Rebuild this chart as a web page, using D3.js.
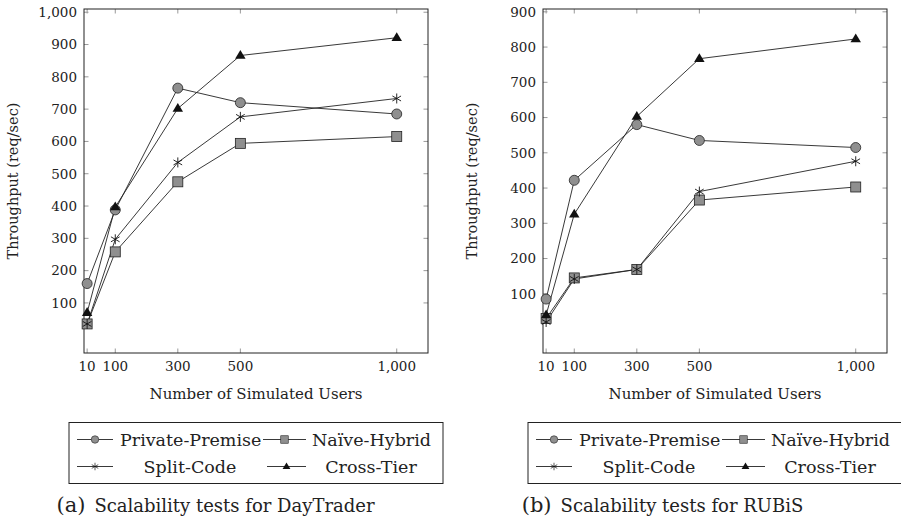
<!DOCTYPE html>
<html>
<head>
<meta charset="utf-8">
<script src="https://cdn.jsdelivr.net/npm/d3@7"></script>
<style>
  body { margin: 0; background: #fff; }
  svg text { font-family: "DejaVu Serif", "Liberation Serif", serif; fill: #222; }
</style>
</head>
<body>
<svg id="chart" width="901" height="520"></svg>
<script>
// --- data ---
const users = [10, 100, 300, 500, 1000];
const seriesNames = ['Private-Premise', 'Naïve-Hybrid', 'Split-Code', 'Cross-Tier'];
const seriesMarks = ['circle', 'square', 'star', 'triangle'];

// DayTrader (a)
const dtPrivate = [160, 388, 765, 720, 685];
const dtNaive = [35, 258, 475, 594, 615];
const dtSplit = [35, 297, 535, 676, 733];
const dtCross = [70, 397, 702, 866, 921];
const dtTicks = [100, 200, 300, 400, 500, 600, 700, 800, 900, 1000];

// RUBiS (b)
const rbPrivate = [85, 422, 580, 535, 515];
const rbNaive = [30, 145, 169, 366, 403];
const rbSplit = [20, 142, 169, 390, 476];
const rbCross = [40, 326, 603, 767, 823];
const rbTicks = [100, 200, 300, 400, 500, 600, 700, 800, 900];

const svg = d3.select('#chart');
const fmt = d3.format(',');

function drawMark(g, type, cx, cy) {
  if (type === 'circle') {
    g.append('circle').attr('cx', cx).attr('cy', cy).attr('r', 5)
      .attr('fill', '#8f8f8f').attr('stroke', '#222').attr('stroke-width', 0.8);
  } else if (type === 'square') {
    g.append('rect').attr('x', cx - 5).attr('y', cy - 5).attr('width', 10).attr('height', 10)
      .attr('fill', '#8f8f8f').attr('stroke', '#222').attr('stroke-width', 0.8);
  } else if (type === 'triangle') {
    const r = 5.5;
    g.append('path')
      .attr('d', `M${cx},${cy - r}L${cx + r * 0.95},${cy + r * 0.6}L${cx - r * 0.95},${cy + r * 0.6}Z`)
      .attr('fill', '#111');
  } else if (type === 'star') {
    const r = 5;
    [90, 30, 150].forEach(a => {
      const dx = r * Math.cos(a * Math.PI / 180), dy = r * Math.sin(a * Math.PI / 180);
      g.append('line').attr('x1', cx - dx).attr('y1', cy - dy).attr('x2', cx + dx).attr('y2', cy + dy)
        .attr('stroke', '#111').attr('stroke-width', 0.9);
    });
  }
}

function drawPanel(opts) {
  const {left, right, top, bottom, yDomain, yTicks, series, caption, tag, legendX, captionX} = opts;
  const g = svg.append('g');
  const x = d3.scaleLinear().domain([0, 1100]).range([left, right]);
  const y = d3.scaleLinear().domain(yDomain).range([bottom, top]);
  const tickLen = 4.5;

  // tick marks (inward, both sides)
  yTicks.forEach(t => {
    g.append('line').attr('x1', left).attr('x2', left + tickLen).attr('y1', y(t)).attr('y2', y(t))
      .attr('stroke', '#999').attr('stroke-width', 1);
    g.append('line').attr('x1', right).attr('x2', right - tickLen).attr('y1', y(t)).attr('y2', y(t))
      .attr('stroke', '#999').attr('stroke-width', 1);
    g.append('text').attr('x', left - 7).attr('y', y(t)).attr('dy', '0.36em')
      .attr('text-anchor', 'end').attr('font-size', 13.5).text(fmt(t));
  });
  users.forEach(t => {
    g.append('line').attr('x1', x(t)).attr('x2', x(t)).attr('y1', bottom).attr('y2', bottom - tickLen)
      .attr('stroke', '#999').attr('stroke-width', 1);
    g.append('line').attr('x1', x(t)).attr('x2', x(t)).attr('y1', top).attr('y2', top + tickLen)
      .attr('stroke', '#999').attr('stroke-width', 1);
    g.append('text').attr('x', x(t)).attr('y', bottom + 18)
      .attr('text-anchor', 'middle').attr('font-size', 13.5).text(fmt(t));
  });

  g.append('rect').attr('x', left).attr('y', top).attr('width', right - left).attr('height', bottom - top)
    .attr('fill', 'none').attr('stroke', '#222').attr('stroke-width', 1);

  // lines and marks
  const line = d3.line().x((d, i) => x(users[i])).y(d => y(d));
  series.forEach(vals => {
    g.append('path').datum(vals).attr('d', line)
      .attr('fill', 'none').attr('stroke', '#222').attr('stroke-width', 0.9);
  });
  series.forEach((vals, si) => {
    vals.forEach((v, i) => drawMark(g, seriesMarks[si], x(users[i]), y(v)));
  });

  // axis labels
  g.append('text').attr('x', (left + right) / 2).attr('y', 399).attr('text-anchor', 'middle')
    .attr('font-size', 15).text('Number of Simulated Users');
  g.append('text').attr('transform', `translate(${left - 66},181) rotate(-90)`)
    .attr('text-anchor', 'middle').attr('font-size', 14.5).text('Throughput (req/sec)');

  // legend
  const lg = g.append('g');
  lg.append('rect').attr('x', legendX).attr('y', 422.5).attr('width', 374).attr('height', 61)
    .attr('fill', '#fff').attr('stroke', '#222').attr('stroke-width', 1);
  const rows = [439.5, 466.5];
  const entries = [
    {lx1: 8, lx2: 44, tx: 51, anchor: 'start'},
    {lx1: 194, lx2: 237, tx: 243, anchor: 'start'},
    {lx1: 8, lx2: 44, tx: 121, anchor: 'middle'},
    {lx1: 198, lx2: 237, tx: 302, anchor: 'middle'}
  ];
  seriesNames.forEach((name, i) => {
    const e = entries[i];
    const ry = rows[Math.floor(i / 2)];
    const mx = legendX + (e.lx1 + e.lx2) / 2;
    lg.append('line').attr('x1', legendX + e.lx1).attr('x2', legendX + e.lx2).attr('y1', ry).attr('y2', ry)
      .attr('stroke', '#222').attr('stroke-width', 0.9);
    const mg = lg.append('g')
      .attr('transform', `translate(${mx},${ry}) scale(0.75) translate(${-mx},${-ry})`);
    drawMark(mg, seriesMarks[i], mx, ry);
    lg.append('text').attr('x', legendX + e.tx).attr('y', ry).attr('dy', '0.35em')
      .attr('text-anchor', e.anchor).attr('font-size', 17.5).text(name);
  });

  // caption
  const cap = g.append('text').attr('x', captionX).attr('y', 512).attr('text-anchor', 'middle');
  cap.append('tspan').attr('font-size', 21).text(tag);
  cap.append('tspan').attr('font-size', 18).attr('dx', 9).text(caption);
}

drawPanel({
  left: 84, right: 428, top: 9, bottom: 353,
  yDomain: [-55, 1010], yTicks: dtTicks,
  series: [dtPrivate, dtNaive, dtSplit, dtCross],
  tag: '(a)', caption: 'Scalability tests for DayTrader', legendX: 69, captionX: 215.5
});
drawPanel({
  left: 543, right: 887, top: 9, bottom: 353,
  yDomain: [-68, 908], yTicks: rbTicks,
  series: [rbPrivate, rbNaive, rbSplit, rbCross],
  tag: '(b)', caption: 'Scalability tests for RUBiS', legendX: 528, captionX: 662.5
});
</script>
</body>
</html>
